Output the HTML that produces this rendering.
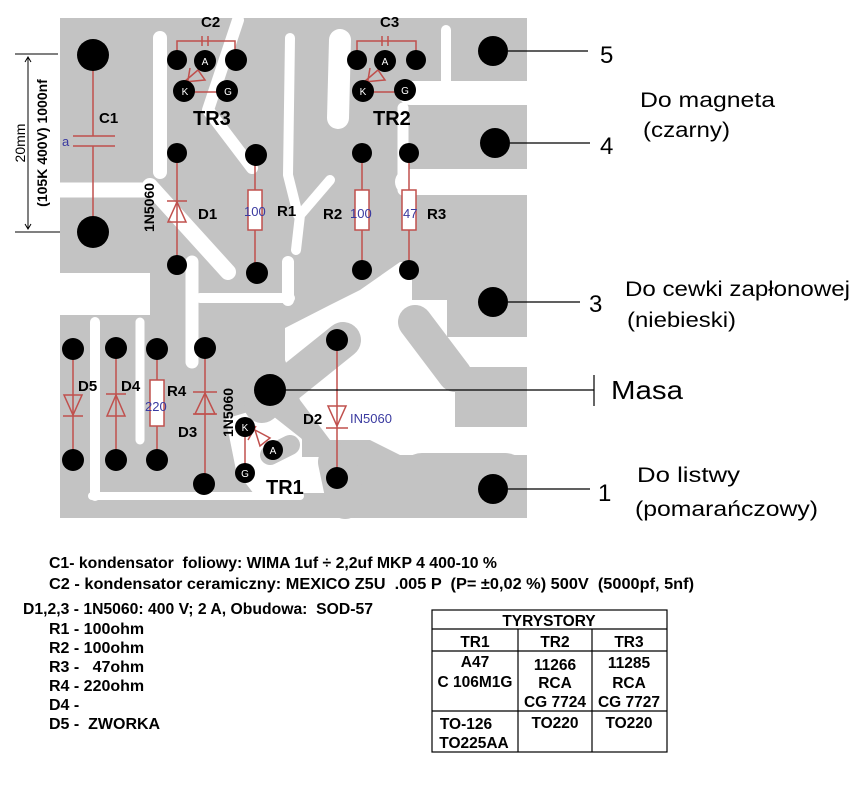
<!DOCTYPE html>
<html><head><meta charset="utf-8"><style>
html,body{margin:0;padding:0;background:#fff;}
svg{display:block;font-family:"Liberation Sans",Arial,sans-serif;}
svg text{white-space:pre;}
.lb{font-weight:bold;fill:#000;}
</style></head><body>
<svg width="861" height="787" viewBox="0 0 861 787" xmlns="http://www.w3.org/2000/svg">
<rect x="60" y="18" width="467" height="500" fill="#c3c3c3"/>
<g fill="#fff">
 <polygon points="285,328 330,305 360,290 400,262 412,262 412,300 527,300 527,455 400,455 370,440 330,440 300,400 285,360"/>
 <rect x="60" y="273" width="90" height="42"/>
 <rect x="290" y="457" width="37" height="36"/>
</g>
<g stroke="#fff" fill="none" stroke-linejoin="round" stroke-linecap="round">
 <line x1="160" y1="38" x2="160" y2="172" stroke-width="14"/>
 <line x1="60" y1="190" x2="145" y2="190" stroke-width="15"/>
 <line x1="150" y1="186" x2="228" y2="272" stroke-width="16"/>
 <polyline points="238,20 208,110 252,168" stroke-width="12"/>
 <polyline points="290,38 288,175 298,215" stroke-width="10"/>
 <polyline points="340,40 338,118" stroke-width="22"/>
 <polyline points="330,180 300,215 296,250" stroke-width="10"/>
 <line x1="446" y1="30" x2="446" y2="100" stroke-width="10"/>
 <line x1="410" y1="93" x2="527" y2="93" stroke-width="24"/>
 <line x1="403" y1="108" x2="403" y2="190" stroke-width="11"/>
 <line x1="408" y1="182" x2="527" y2="182" stroke-width="26"/>
 <line x1="192" y1="262" x2="192" y2="362" stroke-width="13"/>
 <polyline points="200,298 248,298 290,298" stroke-width="10"/>
 <line x1="288" y1="262" x2="288" y2="300" stroke-width="12"/>
 <line x1="95" y1="322" x2="95" y2="496" stroke-width="10"/>
 <line x1="140" y1="322" x2="140" y2="440" stroke-width="9"/>
 <line x1="92" y1="496" x2="300" y2="496" stroke-width="8"/>
 <polygon points="228,420 262,410 300,440 300,492 255,492 238,470" fill="#fff" stroke-width="4"/>
</g>
<g fill="#c3c3c3" stroke="#c3c3c3" stroke-linecap="round">
 <rect x="447" y="295" width="80" height="42" stroke="none"/>
 <line x1="415" y1="322" x2="455" y2="375" stroke-width="34"/>
 <rect x="455" y="367" width="72" height="60" stroke="none"/>
 <rect x="400" y="453" width="127" height="65" rx="22" stroke="none"/>
 <rect x="440" y="470" width="87" height="48" stroke="none"/>
 <line x1="262" y1="405" x2="343" y2="340" stroke-width="36"/>
 <rect x="290" y="500" width="150" height="18" stroke="none"/>
 <line x1="337" y1="462" x2="345" y2="500" stroke-width="38"/>
 <line x1="270" y1="455" x2="290" y2="445" stroke-width="20"/>
</g>
<g stroke="#000" stroke-width="1" fill="none">
 <line x1="15" y1="54" x2="58" y2="54"/><line x1="15" y1="232" x2="60" y2="232"/>
 <line x1="28" y1="57" x2="28" y2="229"/>
 <polyline points="25,62 28,57 31,62"/><polyline points="25,224 28,229 31,224"/>
</g>
<text transform="translate(25,143) rotate(-90)" text-anchor="middle" font-size="14">20mm</text>
<text transform="translate(47,143) rotate(-90)" text-anchor="middle" font-size="14" class="lb">(105K 400V) 1000nf</text>
<g stroke="#c0504d" stroke-width="1.5" fill="none">
 <line x1="93" y1="55" x2="93" y2="136"/><line x1="93" y1="146" x2="93" y2="232"/>
 <line x1="73" y1="136" x2="115" y2="136"/><line x1="73" y1="146" x2="115" y2="146"/>
 <polyline points="177,60 177,41 235,41 235,60"/><line x1="202" y1="36" x2="202" y2="46"/><line x1="208" y1="36" x2="208" y2="46"/>
 <polyline points="357,60 357,41 416,41 416,60"/><line x1="382" y1="36" x2="382" y2="46"/><line x1="388" y1="36" x2="388" y2="46"/>
 <polygon points="184,82 198,70 205,80"/><line x1="190" y1="68" x2="186" y2="92"/><line x1="184" y1="92" x2="235" y2="92"/>
 <polygon points="364,82 378,70 385,80"/><line x1="370" y1="68" x2="366" y2="92"/><line x1="363" y1="92" x2="405" y2="92"/>
 <line x1="177" y1="153" x2="177" y2="265"/><polygon points="168,222 186,222 177,202"/><line x1="167" y1="201" x2="187" y2="201"/>
 <line x1="255" y1="155" x2="255" y2="272"/><rect x="248" y="190" width="14" height="40" fill="#fff"/>
 <line x1="362" y1="153" x2="362" y2="270"/><rect x="355" y="190" width="14" height="40" fill="#fff"/>
 <line x1="409" y1="153" x2="409" y2="270"/><rect x="402" y="190" width="14" height="40" fill="#fff"/>
 <line x1="73" y1="348" x2="73" y2="460"/><polygon points="64,395 82,395 73,415"/><line x1="63" y1="416" x2="83" y2="416"/>
 <line x1="116" y1="348" x2="116" y2="460"/><polygon points="107,416 125,416 116,395"/><line x1="106" y1="394" x2="126" y2="394"/>
 <line x1="157" y1="348" x2="157" y2="460"/><rect x="150" y="380" width="14" height="46" fill="#fff"/>
 <line x1="205" y1="348" x2="205" y2="484"/><polygon points="195,414 215,414 205,393"/><line x1="193" y1="392" x2="217" y2="392"/><line x1="193" y1="414" x2="217" y2="414"/>
 <line x1="337" y1="340" x2="337" y2="478"/><polygon points="328,406 346,406 337,426"/><line x1="326" y1="428" x2="348" y2="428"/>
 <polygon points="255,430 270,438 260,446"/><line x1="256" y1="426" x2="248" y2="440"/><line x1="245" y1="427" x2="245" y2="472"/>
</g>
<g fill="#000">
 <circle cx="93" cy="55" r="16"/><circle cx="93" cy="232" r="16"/>
 <circle cx="177" cy="60" r="10"/><circle cx="205" cy="61" r="11"/><circle cx="236" cy="60" r="11"/><circle cx="184" cy="91" r="11"/><circle cx="227" cy="91" r="11"/>
 <circle cx="357" cy="60" r="10"/><circle cx="385" cy="61" r="11"/><circle cx="416" cy="60" r="10"/><circle cx="363" cy="91" r="11"/><circle cx="405" cy="90" r="11"/>
 <circle cx="493" cy="51" r="15"/><circle cx="495" cy="143" r="15"/><circle cx="493" cy="302" r="15"/><circle cx="493" cy="489" r="15"/>
 <circle cx="177" cy="153" r="10"/><circle cx="256" cy="155" r="11"/><circle cx="362" cy="153" r="10"/><circle cx="409" cy="153" r="10"/>
 <circle cx="177" cy="265" r="10"/><circle cx="257" cy="273" r="11"/><circle cx="362" cy="270" r="10"/><circle cx="409" cy="270" r="10"/>
 <circle cx="73" cy="349" r="11"/><circle cx="116" cy="348" r="11"/><circle cx="157" cy="349" r="11"/><circle cx="205" cy="348" r="11"/><circle cx="337" cy="340" r="11"/>
 <circle cx="270" cy="390" r="16"/>
 <circle cx="73" cy="460" r="11"/><circle cx="116" cy="460" r="11"/><circle cx="157" cy="460" r="11"/><circle cx="204" cy="484" r="11"/><circle cx="337" cy="478" r="11"/>
 <circle cx="245" cy="427" r="10"/><circle cx="273" cy="450" r="10"/><circle cx="245" cy="473" r="10"/>
</g>
<g fill="#fff" font-size="10" text-anchor="middle">
 <text x="205" y="65">A</text><text x="185" y="95">K</text><text x="228" y="95">G</text>
 <text x="385" y="65">A</text><text x="363" y="95">K</text><text x="405" y="94">G</text>
 <text x="245" y="431">K</text><text x="273" y="454">A</text><text x="245" y="477">G</text>
</g>
<g class="lb" font-size="15">
 <text x="201" y="27">C2</text><text x="380" y="27">C3</text>
 <text x="99" y="123">C1</text>
 <text x="193" y="125" font-size="20">TR3</text><text x="373" y="125" font-size="20">TR2</text>
 <text x="198" y="219">D1</text><text x="277" y="216">R1</text><text x="323" y="219">R2</text><text x="427" y="219">R3</text>
 <text x="78" y="391">D5</text><text x="121" y="391">D4</text><text x="167" y="396">R4</text><text x="178" y="437">D3</text><text x="303" y="424">D2</text>
 <text x="266" y="494" font-size="20">TR1</text>
 <text transform="translate(154,232) rotate(-90)" font-size="14">1N5060</text>
 <text transform="translate(233,437) rotate(-90)" font-size="14">1N5060</text>
</g>
<g fill="#3a3aa0" font-size="13">
 <text x="62" y="146">a</text><text x="244" y="216">100</text><text x="350" y="218">100</text><text x="403" y="218">47</text>
 <text x="145" y="411">220</text><text x="350" y="423">IN5060</text>
</g>
<g stroke="#000" stroke-width="1.2">
 <line x1="508" y1="51" x2="588" y2="51"/><line x1="510" y1="143" x2="590" y2="143"/>
 <line x1="508" y1="302" x2="580" y2="302"/><line x1="285" y1="390" x2="594" y2="390"/>
 <line x1="594" y1="375" x2="594" y2="406"/><line x1="508" y1="489" x2="590" y2="489"/>
</g>
<g font-size="24" fill="#000">
 <text x="600" y="63">5</text><text x="600" y="154">4</text><text x="589" y="312">3</text><text x="598" y="501">1</text>
 <text x="611" y="399" font-size="26" textLength="72" lengthAdjust="spacingAndGlyphs">Masa</text>
</g>
<g font-size="21" fill="#000">
 <text x="640" y="107" textLength="135" lengthAdjust="spacingAndGlyphs">Do magneta</text>
 <text x="643" y="137" textLength="87" lengthAdjust="spacingAndGlyphs">(czarny)</text>
 <text x="625" y="296" textLength="225" lengthAdjust="spacingAndGlyphs">Do cewki zapłonowej</text>
 <text x="627" y="327" textLength="109" lengthAdjust="spacingAndGlyphs">(niebieski)</text>
 <text x="637" y="482" textLength="103" lengthAdjust="spacingAndGlyphs">Do listwy</text>
 <text x="635" y="516" textLength="183" lengthAdjust="spacingAndGlyphs">(pomarańczowy)</text>
</g>
<g class="lb" font-size="16">
 <text x="49" y="568" textLength="448" lengthAdjust="spacingAndGlyphs">C1- kondensator  foliowy: WIMA 1uf ÷ 2,2uf MKP 4 400-10 %</text>
 <text x="49" y="589" textLength="645" lengthAdjust="spacingAndGlyphs">C2 - kondensator ceramiczny: MEXICO Z5U  .005 P  (P= ±0,02 %) 500V  (5000pf, 5nf)</text>
 <text x="23" y="614" textLength="350" lengthAdjust="spacingAndGlyphs">D1,2,3 - 1N5060: 400 V; 2 A, Obudowa:  SOD-57</text>
 <text x="49" y="634">R1 - 100ohm</text><text x="49" y="653">R2 - 100ohm</text>
 <text x="49" y="672">R3 -   47ohm</text><text x="49" y="691">R4 - 220ohm</text>
 <text x="49" y="710">D4 -</text><text x="49" y="729">D5 -  ZWORKA</text>
</g>
<g stroke="#000" stroke-width="1.2" fill="none">
 <rect x="432" y="610" width="235" height="142"/>
 <line x1="432" y1="629" x2="667" y2="629"/><line x1="432" y1="651" x2="667" y2="651"/><line x1="432" y1="711" x2="667" y2="711"/>
 <line x1="518" y1="629" x2="518" y2="752"/><line x1="592" y1="629" x2="592" y2="752"/>
</g>
<g class="lb" font-size="15.5" text-anchor="middle">
 <text x="549" y="626">TYRYSTORY</text>
 <text x="475" y="647">TR1</text><text x="555" y="647">TR2</text><text x="629" y="647">TR3</text>
 <text x="475" y="667">A47</text><text x="475" y="687">C 106M1G</text>
 <text x="555" y="670">11266</text><text x="555" y="688">RCA</text><text x="555" y="707">CG 7724</text>
 <text x="629" y="668">11285</text><text x="629" y="688">RCA</text><text x="629" y="707">CG 7727</text>
 <text x="466" y="729">TO-126</text><text x="474" y="748">TO225AA</text>
 <text x="555" y="728">TO220</text><text x="629" y="728">TO220</text>
</g>
</svg>
</body></html>
